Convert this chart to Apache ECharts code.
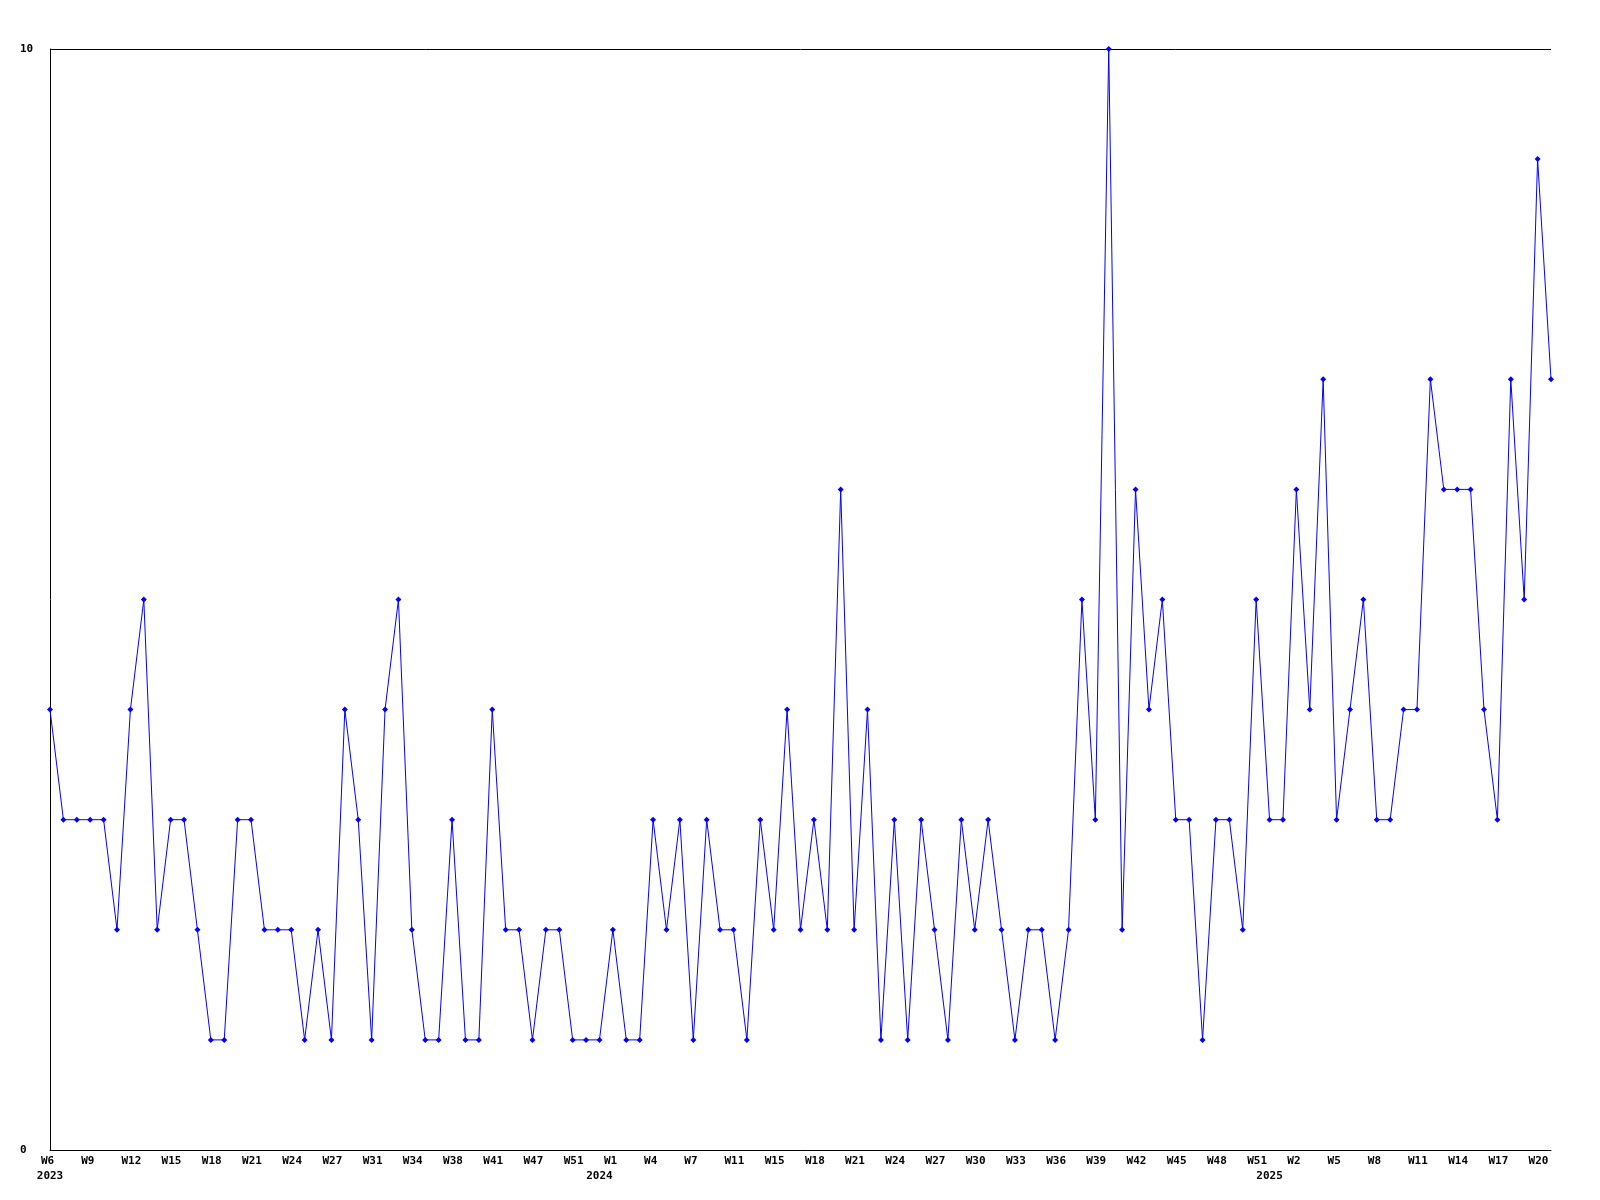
<!DOCTYPE html>
<html>
<head>
<meta charset="utf-8">
<script src="https://cdn.jsdelivr.net/npm/echarts@6/dist/echarts.min.js"></script>
<style>
  html, body { margin: 0; padding: 0; background: #ffffff; }
  #chart { width: 1600px; height: 1200px; }
</style>
</head>
<body>
<div id="chart"></div>
<script>
// Week labels (one per data point)
const weeks = [
  // 2023
  'W6','W7','W8','W9','W10','W11','W12','W13','W14','W15','W16','W17','W18','W19','W20','W21','W22','W23','W24','W25','W26','W27',
  'W28','W30','W31','W32','W33','W34','W35','W36','W38','W39','W40','W41','W43','W45','W47','W48','W50','W51','W52','W53',
  // 2024
  'W1','W2','W3','W4','W5','W6','W7','W8','W9','W11','W12','W13','W15','W16','W17','W18','W19','W20','W21','W22','W23','W24',
  'W25','W26','W27','W28','W29','W30','W31','W32','W33','W34','W35','W36','W37','W38','W39','W40','W41','W42','W43','W44',
  'W45','W46','W47','W48','W49','W50','W51','W52',
  // 2025
  'W1','W2','W3','W4','W5','W6','W7','W8','W9','W10','W11','W12','W13','W14','W15','W16','W17','W18','W19','W20','W21'
];

// Year labels, placed at the year boundary
const yearMarks = { 0: '2023', 41: '2024', 91: '2025' };

const values = [
  4,3,3,3,3,2,4,5,2,3,3,2,1,1,3,3,2,2,2,
  1,2,1,4,3,1,4,5,2,1,1,3,1,1,4,2,2,1,2,
  2,1,1,1,2,1,1,3,2,3,1,3,2,2,1,3,2,4,2,
  3,2,6,2,4,1,3,1,3,2,1,3,2,3,2,1,2,2,
  1,2,5,3,10,2,6,4,5,3,3,1,3,3,2,5,3,3,6,
  4,7,3,4,5,3,3,4,4,7,6,6,6,4,3,7,5,9,7
];

const yTicks = [0, 10];

const chart = echarts.init(document.getElementById('chart'), null, { renderer: 'canvas' });
const labelFont = { fontFamily: 'DejaVu Sans Mono', fontWeight: 'bold', fontSize: 11, color: '#000000' };

chart.setOption({
  animation: false,
  backgroundColor: '#ffffff',
  grid: { left: 50, right: 49, top: 49, bottom: 50, containLabel: false },
  xAxis: [{
    type: 'category',
    data: weeks,
    boundaryGap: false,
    axisLine: { show: true, lineStyle: { color: '#000000', width: 1 } },
    axisTick: { show: false },
    splitLine: { show: false },
    axisLabel: Object.assign({}, labelFont, {
      interval: 2,
      margin: 6,
      align: 'left',
      padding: [0, 0, 0, -9]
    })
  }, {
    type: 'category',
    data: weeks,
    position: 'bottom',
    boundaryGap: false,
    axisLine: { show: false },
    axisTick: { show: false },
    splitLine: { show: false },
    axisLabel: Object.assign({}, labelFont, {
      margin: 21,
      align: 'center',
      interval: function (index) { return yearMarks[index] !== undefined; },
      formatter: function (value, index) { return yearMarks[index] || ''; }
    })
  }],
  yAxis: {
    type: 'value',
    min: yTicks[0],
    max: yTicks[yTicks.length - 1],
    interval: yTicks[1] - yTicks[0],
    axisLine: { show: true, lineStyle: { color: '#000000', width: 1 } },
    axisTick: { show: false },
    splitLine: { show: true, lineStyle: { color: '#000000', width: 1 } },
    axisLabel: Object.assign({}, labelFont, { align: 'left', margin: 30 })
  },
  series: [{
    type: 'line',
    xAxisIndex: 0,
    data: values,
    symbol: 'diamond',
    symbolSize: 6,
    showAllSymbol: true,
    itemStyle: { color: '#0000ff' },
    lineStyle: { color: '#0000ff', width: 1 }
  }]
});
</script>
</body>
</html>
